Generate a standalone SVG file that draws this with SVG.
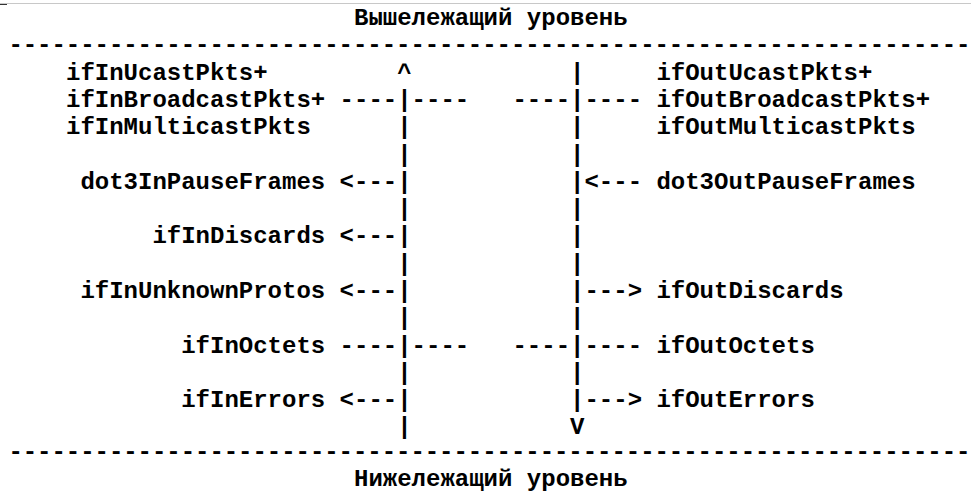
<svg xmlns="http://www.w3.org/2000/svg" width="971" height="495" viewBox="0 0 971 495">
<style>
text{font-family:"Liberation Mono","Courier New",monospace;font-size:24px;font-weight:bold;fill:#000;white-space:pre}
</style>
<rect width="971" height="495" fill="#fff"/>
<line x1="0" y1="3.5" x2="971" y2="3.5" stroke="#c8c8c8" stroke-width="1"/>
<line x1="0" y1="4.5" x2="7" y2="4.5" stroke="#333" stroke-width="1"/>
<g id="upper-layer"><text x="354" y="25">Вышележащий уровень</text></g>
<g id="lower-layer"><text x="354" y="486">Нижележащий уровень</text></g>
<g id="rules">
<text x="8.4" y="51.5" textLength="962" lengthAdjust="spacing" xml:space="preserve">-------------------------------------------------------------------</text>
<text x="8.4" y="459" textLength="962" lengthAdjust="spacing" xml:space="preserve">-------------------------------------------------------------------</text>
</g>
<g id="in-ucast"><text x="66" y="79.6">ifInUcastPkts+</text></g>
<g id="in-bcast"><text x="66" y="106.9">ifInBroadcastPkts+</text></g>
<g id="in-mcast"><text x="66" y="134.2">ifInMulticastPkts</text></g>
<g id="in-pause"><text x="80.4" y="188.8">dot3InPauseFrames</text></g>
<g id="in-discards"><text x="152.4" y="243.4">ifInDiscards</text></g>
<g id="in-unknown"><text x="80.4" y="298">ifInUnknownProtos</text></g>
<g id="in-octets"><text x="181.2" y="352.6">ifInOctets</text></g>
<g id="in-errors"><text x="181.2" y="406.5">ifInErrors</text></g>
<g id="out-ucast"><text x="656.4" y="79.6">ifOutUcastPkts+</text></g>
<g id="out-bcast"><text x="656.4" y="106.9">ifOutBroadcastPkts+</text></g>
<g id="out-mcast"><text x="656.4" y="134.2">ifOutMulticastPkts</text></g>
<g id="out-pause"><text x="656.4" y="188.8">dot3OutPauseFrames</text></g>
<g id="out-discards"><text x="656.4" y="298">ifOutDiscards</text></g>
<g id="out-octets"><text x="656.4" y="352.6">ifOutOctets</text></g>
<g id="out-errors"><text x="656.4" y="406.5">ifOutErrors</text></g>
<g id="connectors">
<text x="397.2" y="79.6" xml:space="preserve">^           |</text>
<text x="325.2" y="106.9" xml:space="preserve"> ----|----   ----|---- </text>
<text x="397.2" y="134.2" xml:space="preserve">|           |</text>
<text x="397.2" y="161.5" xml:space="preserve">|           |</text>
<text x="325.2" y="188.8" xml:space="preserve"> &lt;---|           |&lt;--- </text>
<text x="397.2" y="216.1" xml:space="preserve">|           |</text>
<text x="325.2" y="243.4" xml:space="preserve"> &lt;---|           |</text>
<text x="397.2" y="270.7" xml:space="preserve">|           |</text>
<text x="325.2" y="298" xml:space="preserve"> &lt;---|           |---&gt; </text>
<text x="397.2" y="325.3" xml:space="preserve">|           |</text>
<text x="325.2" y="352.6" xml:space="preserve"> ----|----   ----|---- </text>
<text x="397.2" y="379.9" xml:space="preserve">|           |</text>
<text x="325.2" y="406.5" xml:space="preserve"> &lt;---|           |---&gt; </text>
<text x="397.2" y="433.5" xml:space="preserve">|           V</text>
</g>
</svg>
